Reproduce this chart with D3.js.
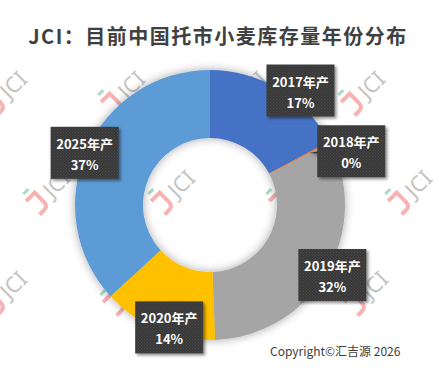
<!DOCTYPE html>
<html>
<head>
<meta charset="utf-8">
<script src="https://cdn.jsdelivr.net/npm/d3@7"></script>
<style>
  html, body { margin: 0; padding: 0; background: #fff; }
  svg { display: block; }
</style>
</head>
<body>
<div id="chart"></div>
<script>
// data
const years = ["2017年产", "2018年产", "2019年产", "2020年产", "2025年产"];
const shares = [17.2, 0.2, 32.0, 13.8, 36.8];
const colors = ["#4472C4", "#ED7D31", "#A5A5A5", "#FFC000", "#5B9BD5"];

// label nudges (px) so the boxes sit where Excel put them
const labelNudge = [[20, 3], [20, 10], [4, 1], [12, -4], [0, 3]];

// watermark rows (centres)
const wmRows = [
  { y: 83, xs: [15, 133, 255, 373] },
  { y: 182, xs: [58, 183, 301, 420] },
  { y: 283, xs: [15, 135, 255, 376] }
];

const W = 439, H = 375;
const cx = 210, cy = 205, rOuter = 135, rInner = 67;

let svg = d3.select("#chart").append("svg")
  .attr("width", W)
  .attr("height", H);

let defs = svg.append("defs");

// soft shadow round the ring
let f1 = defs.append("filter").attr("id", "ringShadow")
  .attr("x", "-30%").attr("y", "-30%").attr("width", "160%").attr("height", "160%");
f1.append("feDropShadow").attr("dx", 0).attr("dy", 0)
  .attr("stdDeviation", 5).attr("flood-color", "#000").attr("flood-opacity", 0.35);

// shadow of the label boxes
let f2 = defs.append("filter").attr("id", "boxShadow")
  .attr("x", "-20%").attr("y", "-20%").attr("width", "150%").attr("height", "150%");
f2.append("feDropShadow").attr("dx", 2).attr("dy", 2)
  .attr("stdDeviation", 1.5).attr("flood-color", "#000").attr("flood-opacity", 0.45);

// dotted texture of the label boxes
let pat = defs.append("pattern").attr("id", "dots")
  .attr("width", 3).attr("height", 3).attr("patternUnits", "userSpaceOnUse");
pat.append("rect").attr("width", 3).attr("height", 3).attr("fill", "#393939");
pat.append("rect").attr("x", 0).attr("y", 0).attr("width", 1).attr("height", 1).attr("fill", "#4c4c4c");
pat.append("rect").attr("x", 1.5).attr("y", 1.5).attr("width", 1).attr("height", 1).attr("fill", "#444");

// watermarks
let wm = svg.append("g").attr("class", "watermarks");
wmRows.forEach(function(row) {
  row.xs.forEach(function(x) {
    let g = wm.append("g").attr("transform", "translate(" + x + "," + row.y + ") rotate(-45)");
    g.append("path")
      .attr("d", "M-36,-9 L-24,-9 L-24,4 Q-24,10 -30,10 L-36,10")
      .attr("fill", "none").attr("stroke", "#F7B3B3").attr("stroke-width", 4);
    g.append("path")
      .attr("d", "M-33,-16 L-26,-16")
      .attr("fill", "none").attr("stroke", "#A9DDC3").attr("stroke-width", 3);
    g.append("text")
      .attr("x", -16).attr("y", 8)
      .attr("font-family", "'Noto Sans', sans-serif")
      .attr("font-size", 22)
      .attr("fill", "#C4C4C4")
      .text("JCI");
  });
});

// title
svg.append("text")
  .attr("x", 218).attr("y", 44)
  .attr("text-anchor", "middle")
  .attr("font-family", "'Noto Sans CJK SC', sans-serif")
  .attr("font-weight", "bold")
  .attr("font-size", 20)
  .attr("letter-spacing", 1.5)
  .attr("fill", "#404040")
  .text("JCI：目前中国托市小麦库存量年份分布");

// donut
let pie = d3.pie().sort(null).value(function(d) { return d; });
let arcs = pie(shares);
let arc = d3.arc().innerRadius(rInner).outerRadius(rOuter);

let ring = svg.append("g")
  .attr("transform", "translate(" + cx + "," + cy + ")")
  .attr("filter", "url(#ringShadow)");

ring.selectAll("path")
  .data(arcs)
  .enter()
    .append("path")
    .attr("d", arc)
    .attr("fill", function(d, i) { return colors[i]; });

// labels (callout boxes)
let bw = 68, bh = 52;
let labels = svg.append("g");
arcs.forEach(function(a, i) {
  let mid = (a.startAngle + a.endAngle) / 2;
  let bx = cx + 137 * Math.sin(mid) + labelNudge[i][0];
  let by = cy - 137 * Math.cos(mid) + labelNudge[i][1];
  let tx = cx + 112 * Math.sin(mid);
  let ty = cy - 112 * Math.cos(mid);

  let g = labels.append("g").attr("filter", "url(#boxShadow)");
  // pointer toward the slice
  let dx = tx - bx, dy = ty - by;
  let len = Math.sqrt(dx * dx + dy * dy) || 1;
  let nx = -dy / len * 6, ny = dx / len * 6;
  g.append("path")
    .attr("d", "M" + (bx + nx) + "," + (by + ny) + " L" + tx + "," + ty + " L" + (bx - nx) + "," + (by - ny) + "Z")
    .attr("fill", "url(#dots)");
  g.append("rect")
    .attr("x", bx - bw / 2).attr("y", by - bh / 2)
    .attr("width", bw).attr("height", bh)
    .attr("fill", "url(#dots)");

  let t = labels.append("text")
    .attr("text-anchor", "middle")
    .attr("font-family", "'Noto Sans CJK SC', sans-serif")
    .attr("font-weight", "bold")
    .attr("font-size", 13)
    .attr("fill", "#fff");
  t.append("tspan").attr("x", bx).attr("y", by - 4).text(years[i]);
  t.append("tspan").attr("x", bx).attr("y", by + 17).text(Math.round(shares[i]) + "%");
});

// copyright
svg.append("text")
  .attr("x", 270).attr("y", 356)
  .attr("font-family", "'Noto Sans CJK SC', sans-serif")
  .attr("font-size", 12)
  .attr("fill", "#404040")
  .text("Copyright©汇吉源 2026");
</script>
</body>
</html>
